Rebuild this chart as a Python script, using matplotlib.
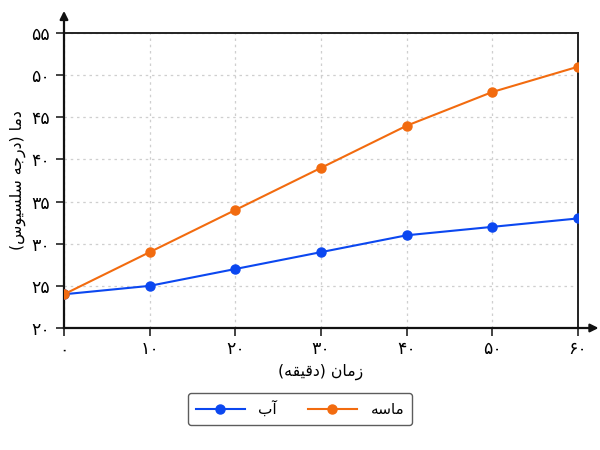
import matplotlib
matplotlib.use("Agg")
import matplotlib.pyplot as plt

# ---- data ----
time_min = [0, 10, 20, 30, 40, 50, 60]
water = [24, 25, 27, 29, 31, 32, 33]
sand = [24, 29, 34, 39, 44, 48, 51]
x_ticks = [0, 10, 20, 30, 40, 50, 60]
y_ticks = [20, 25, 30, 35, 40, 45, 50, 55]
x_label = "زمان (دقیقه)"
y_label = "دما (درجه سلسیوس)"
series_names = ["آب", "ماسه"]

# ---- simple Arabic/Persian shaping (presentation forms, visual order) ----
FORMS = {  # isolated, final, initial, medial
    "ا": ("\uFE8D", "\uFE8E", None, None),
    "آ": ("\uFE81", "\uFE82", None, None),
    "ب": ("\uFE8F", "\uFE90", "\uFE91", "\uFE92"),
    "ج": ("\uFE9D", "\uFE9E", "\uFE9F", "\uFEA0"),
    "د": ("\uFEA9", "\uFEAA", None, None),
    "ر": ("\uFEAD", "\uFEAE", None, None),
    "ز": ("\uFEAF", "\uFEB0", None, None),
    "س": ("\uFEB1", "\uFEB2", "\uFEB3", "\uFEB4"),
    "ق": ("\uFED5", "\uFED6", "\uFED7", "\uFED8"),
    "ل": ("\uFEDD", "\uFEDE", "\uFEDF", "\uFEE0"),
    "م": ("\uFEE1", "\uFEE2", "\uFEE3", "\uFEE4"),
    "ن": ("\uFEE5", "\uFEE6", "\uFEE7", "\uFEE8"),
    "ه": ("\uFEE9", "\uFEEA", "\uFEEB", "\uFEEC"),
    "و": ("\uFEED", "\uFEEE", None, None),
    "ی": ("\uFBFC", "\uFBFD", "\uFEF3", "\uFEF4"),
}
MIRROR = {"(": ")", ")": "("}


def shape(text):
    chars = list(text)
    out = []
    for i, c in enumerate(chars):
        if c not in FORMS:
            out.append(MIRROR.get(c, c))
            continue
        prev = chars[i - 1] if i > 0 else None
        nxt = chars[i + 1] if i + 1 < len(chars) else None
        join_prev = prev in FORMS and FORMS[prev][2] is not None
        join_next = nxt in FORMS and FORMS[c][2] is not None
        iso, fin, ini, med = FORMS[c]
        if join_prev and join_next:
            out.append(med)
        elif join_prev:
            out.append(fin)
        elif join_next:
            out.append(ini)
        else:
            out.append(iso)
    return "".join(reversed(out))


def fa_digits(n):
    return "".join("۰۱۲۳۴۵۶۷۸۹"[int(d)] for d in str(n))


plt.rcParams["font.family"] = ["DejaVu Sans"]

blue = "#0b47f0"
orange = "#f26b0f"

fig = plt.figure(figsize=(6, 4.5), dpi=100)
ax = fig.add_axes([64 / 600, 1 - 328 / 450, (578 - 64) / 600, (328 - 33) / 450])

ax.plot(time_min, water, color=blue, lw=1.5, marker="o", ms=6.5, label=shape(series_names[0]), zorder=3)
ax.plot(time_min, sand, color=orange, lw=1.5, marker="o", ms=6.5, label=shape(series_names[1]), zorder=3)

ax.set_xlim(0, 60)
ax.set_ylim(20, 55)
ax.set_xticks(x_ticks)
ax.set_yticks(y_ticks)
ax.set_xticklabels([fa_digits(v) for v in x_ticks], fontsize=12.5)
ax.set_yticklabels([fa_digits(v) for v in y_ticks], fontsize=12.5)
ax.tick_params(direction="out", length=6, width=1.2, color="#222222")
ax.tick_params(axis="y", pad=4)
ax.tick_params(axis="x", pad=3)

ax.grid(True, color="#cfcfcf", linestyle=(0, (2, 3)), linewidth=0.9)
ax.set_axisbelow(True)

for side in ["left", "bottom"]:
    ax.spines[side].set_linewidth(1.6)
    ax.spines[side].set_color("#111111")
for side in ["top", "right"]:
    ax.spines[side].set_linewidth(1.4)
    ax.spines[side].set_color("#222222")

# axis arrows
ax.annotate("", xy=(0, 1.075), xytext=(0, 1.0), xycoords="axes fraction",
            arrowprops=dict(arrowstyle="-|>", color="#111111", lw=1.6, mutation_scale=12,
                            shrinkA=0, shrinkB=0), annotation_clip=False)
ax.annotate("", xy=(1.04, 0), xytext=(1.0, 0), xycoords="axes fraction",
            arrowprops=dict(arrowstyle="-|>", color="#111111", lw=1.6, mutation_scale=12,
                            shrinkA=0, shrinkB=0), annotation_clip=False)

ax.set_xlabel(shape(x_label), fontsize=11.3, labelpad=4)
ax.set_ylabel(shape(y_label), fontsize=11.3, labelpad=4)

leg = fig.legend(loc="center", bbox_to_anchor=(0.5, 1 - 409 / 450), ncol=2, fontsize=11,
                 frameon=True, fancybox=True, edgecolor="#333333", handlelength=3.2,
                 columnspacing=2.0, handletextpad=0.9, borderpad=0.5)
leg.get_frame().set_linewidth(1.0)

fig.savefig("out.png", dpi=100)
